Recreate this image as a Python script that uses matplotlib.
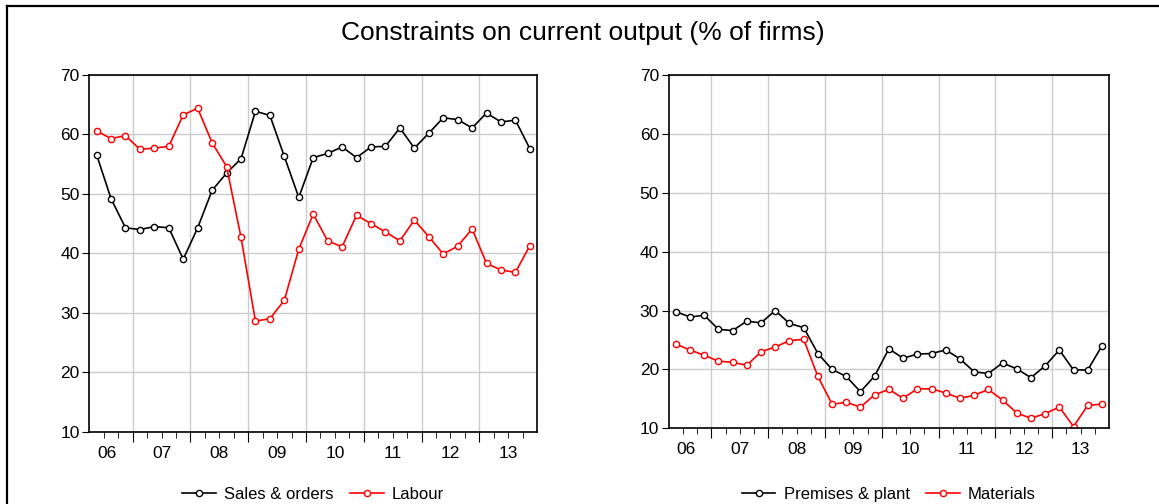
import matplotlib
matplotlib.use("Agg")
import matplotlib.pyplot as plt
from matplotlib.lines import Line2D
import numpy as np

plt.rcParams['font.family'] = ['Liberation Sans', 'DejaVu Sans']

# quarterly data, 2006 Q2 to 2013 Q4
sales_orders = [56.6, 49.2, 44.3, 44.0, 44.5, 44.3, 39.0, 44.3, 50.6, 53.5,
                55.9, 63.9, 63.2, 56.3, 49.4, 56.1, 56.8, 57.9, 56.1, 57.9,
                58.0, 61.1, 57.7, 60.2, 62.8, 62.5, 61.1, 63.6, 62.1, 62.4, 57.6]
labour = [60.6, 59.3, 59.8, 57.5, 57.7, 58.0, 63.3, 64.4, 58.6, 54.6,
          42.7, 28.6, 29.0, 32.1, 40.7, 46.6, 42.1, 41.1, 46.4, 45.0,
          43.6, 42.1, 45.6, 42.8, 39.9, 41.2, 44.1, 38.3, 37.2, 36.8, 41.3]
premises = [29.8, 28.9, 29.2, 26.8, 26.6, 28.2, 27.9, 30.0, 27.8, 27.1,
            22.7, 20.0, 18.8, 16.2, 18.9, 23.5, 21.9, 22.6, 22.7, 23.3,
            21.8, 19.6, 19.3, 21.1, 20.1, 18.6, 20.6, 23.3, 19.9, 19.9, 24.0]
materials = [24.3, 23.3, 22.4, 21.4, 21.2, 20.7, 23.0, 23.8, 24.9, 25.1,
             18.8, 14.1, 14.4, 13.6, 15.7, 16.6, 15.1, 16.7, 16.7, 16.0,
             15.1, 15.6, 16.6, 14.8, 12.6, 11.7, 12.5, 13.6, 10.3, 13.9, 14.1]
years = ['06', '07', '08', '09', '10', '11', '12', '13']
yticks = [10, 20, 30, 40, 50, 60, 70]

n = len(sales_orders)
x = 2006.25 + 0.25 * np.arange(n) + 0.125

fig = plt.figure(figsize=(11.59, 5.04), dpi=100)
fig.text(0.503, 0.935, "Constraints on current output (% of firms)",
         ha='center', va='center', fontsize=19)

# outer frame (left and top edges visible)
fig.add_artist(Line2D([7/1159, 7/1159], [0, 1 - 6/504], color='black', lw=1.6))
fig.add_artist(Line2D([7/1159, 1], [1 - 6/504, 1 - 6/504], color='black', lw=1.6))


def panel(rect, s1, s2, names, leg_y):
    ax = fig.add_axes(rect)
    ax.plot(x, s1, color='black', lw=1.2, marker='o', ms=4.5,
            mfc='white', mec='black', mew=1.0, label=names[0])
    ax.plot(x, s2, color='red', lw=1.2, marker='o', ms=4.5,
            mfc='white', mec='red', mew=1.0, label=names[1])
    ax.set_xlim(2006.25, 2014.0)
    ax.set_ylim(10, 70)
    ax.set_yticks(yticks)
    ax.tick_params(axis='y', labelsize=12.5, length=5, direction='out', pad=2)
    # year gridlines / major ticks at boundaries, labels at year centres
    ax.set_xticks(np.arange(2007, 2014), minor=False)
    ax.set_xticks(np.arange(2006.5, 2014.0, 0.25), minor=True)
    ax.set_xticklabels([])
    ax.tick_params(axis='x', which='major', length=7, direction='out')
    ax.tick_params(axis='x', which='minor', length=4, direction='out')
    for i, yr in enumerate(years):
        xpos = 2006.55 if i == 0 else 2006.5 + i
        ax.text(xpos, -0.04, yr, transform=ax.get_xaxis_transform(),
                ha='center', va='top', fontsize=12.5)
    ax.grid(True, color='#cccccc', lw=1.0)
    ax.set_axisbelow(True)
    for sp in ax.spines.values():
        sp.set_linewidth(1.2)
    ax.legend(loc='center', bbox_to_anchor=(0.5, leg_y), ncol=2, frameon=False,
              fontsize=12, handlelength=2.0, handletextpad=0.5,
              columnspacing=1.0)
    return ax


panel([0.0771, 0.1435, 0.3863, 0.7077], sales_orders, labour,
      ['Sales & orders', 'Labour'], -0.175)
panel([0.5770, 0.1502, 0.3799, 0.7010], premises, materials,
      ['Premises & plant', 'Materials'], -0.186)

fig.savefig('out.png', dpi=100)
